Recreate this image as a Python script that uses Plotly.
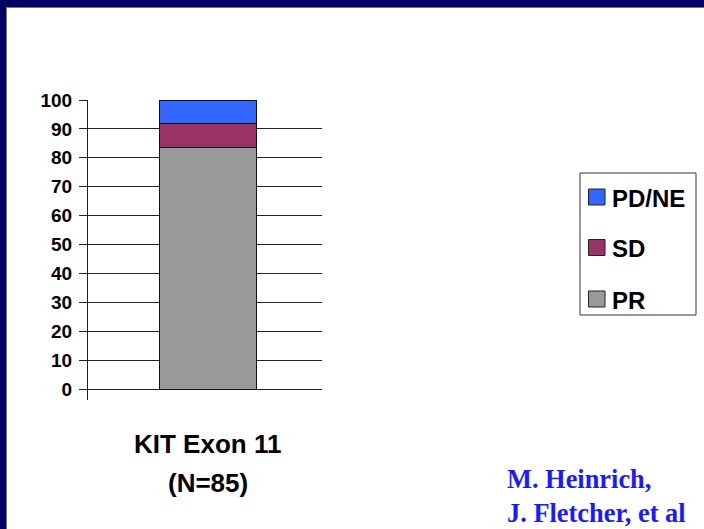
import plotly.graph_objects as go

# ---- data -------------------------------------------------------------
categories = ["KIT Exon 11"]
category_lines = ["KIT Exon 11", "(N=85)"]
series_names = ["PR", "SD", "PD/NE"]
pr_values = [83.5]
sd_values = [8.2]
pdne_values = [8.3]
series_values = [pr_values, sd_values, pdne_values]
series_colors = ["#999999", "#993366", "#3366FF"]
y_ticks = [0, 10, 20, 30, 40, 50, 60, 70, 80, 90, 100]
author_lines = ["M. Heinrich,", "J. Fletcher, et al"]

# ---- figure geometry (pixels) -------------------------------------------
W, H = 704, 529
ML, MR, MT, MB = 88, 382, 100, 129
PW, PH = W - ML - MR, H - MT - MB


def fx(px):
    return (px - ML) / PW


def fy(py):
    return (H - MB - py) / PH


SANS = "Liberation Sans, Arial, sans-serif"
SERIF = "Liberation Serif, Times New Roman, serif"

fig = go.Figure()
for name, vals, col in zip(series_names, series_values, series_colors):
    fig.add_trace(go.Bar(
        x=categories, y=vals, name=name,
        marker=dict(color=col, line=dict(color="#111111", width=1)),
        showlegend=False,
    ))

shapes = []
# slide frame: navy bands along the top and left edges
NAVY = "#000066"
shapes.append(dict(type="rect", xref="paper", yref="paper",
                   x0=fx(0), x1=fx(W), y0=fy(0), y1=fy(7),
                   fillcolor=NAVY, line=dict(width=0), layer="below"))
shapes.append(dict(type="rect", xref="paper", yref="paper",
                   x0=fx(0), x1=fx(6), y0=fy(0), y1=fy(H),
                   fillcolor=NAVY, line=dict(width=0), layer="below"))
shapes.append(dict(type="line", xref="paper", yref="paper",
                   x0=fx(6), x1=fx(W), y0=fy(7.5), y1=fy(7.5),
                   line=dict(color="#777777", width=1), layer="below"))
shapes.append(dict(type="line", xref="paper", yref="paper",
                   x0=fx(6.5), x1=fx(6.5), y0=fy(7), y1=fy(H),
                   line=dict(color="#777777", width=1), layer="below"))

# legend box with swatches (top-to-bottom: last series first)
shapes.append(dict(type="rect", xref="paper", yref="paper",
                   x0=fx(580), x1=fx(696), y0=fy(173), y1=fy(315),
                   fillcolor="white", line=dict(color="#333333", width=1)))
annotations = []
legend_centres = [197, 247.5, 299]
for (name, col), cy in zip(list(zip(series_names, series_colors))[::-1], legend_centres):
    shapes.append(dict(type="rect", xref="paper", yref="paper",
                       x0=fx(588.5), x1=fx(605), y0=fy(cy - 8), y1=fy(cy + 8),
                       fillcolor=col, line=dict(color="#222222", width=1)))
    annotations.append(dict(xref="paper", yref="paper", x=fx(610), y=fy(cy + 1),
                            xanchor="left", yanchor="middle", showarrow=False,
                            text="<b>%s</b>" % name,
                            font=dict(family=SANS, size=24, color="black")))

# category label under the bar
for line, cy in zip(category_lines, [443, 482]):
    annotations.append(dict(xref="x", yref="paper", x=categories[0], y=fy(cy + 1),
                            xanchor="center", yanchor="middle", showarrow=False,
                            text="<b>%s</b>" % line,
                            font=dict(family=SANS, size=26, color="black")))

# author credit
annotations.append(dict(xref="paper", yref="paper", x=fx(505), y=fy(496),
                        xanchor="left", yanchor="middle", showarrow=False,
                        align="left",
                        text="<br>".join("<b>%s</b>" % t for t in author_lines),
                        font=dict(family=SERIF, size=26.4, color="#1a1aff")))

fig.update_layout(
    width=W, height=H,
    margin=dict(l=ML, r=MR, t=MT, b=MB, pad=0),
    paper_bgcolor="white", plot_bgcolor="white",
    barmode="stack", bargap=0.584,
    shapes=shapes, annotations=annotations,
    showlegend=False,
    xaxis=dict(type="category", range=[-0.5115, 0.4885],
               showticklabels=False, showgrid=False, zeroline=False,
               showline=False, ticks=""),
    yaxis=dict(range=[-3.8, 100], tickvals=y_ticks,
               showgrid=True, gridcolor="#222222", gridwidth=1,
               zeroline=False, showline=True, linecolor="#222222", linewidth=1,
               ticks="outside", ticklen=8, tickcolor="#222222", tickwidth=1,
               ticklabelstandoff=3,
               tickfont=dict(family=SANS, size=19, color="black", weight="bold")),
)

fig.write_html("out.html")
